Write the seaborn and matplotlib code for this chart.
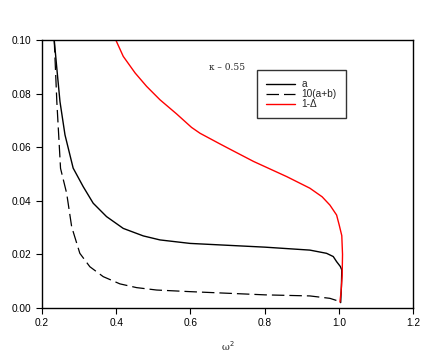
import numpy as np
import matplotlib
matplotlib.use("Agg")
import matplotlib.pyplot as plt
import pandas as pd
import seaborn as sns

# curve "a"
a_x = [0.233, 0.240, 0.2485, 0.262, 0.284, 0.311, 0.338, 0.374, 0.419, 0.473, 0.518, 0.599,
       0.700, 0.801, 0.922, 0.967, 0.985, 0.994, 1.004, 1.008, 1.007, 1.005]
a_y = [0.100, 0.0894, 0.0770, 0.0646, 0.0522, 0.0453, 0.0391, 0.0341, 0.0297, 0.0269, 0.0254, 0.0241,
       0.0234, 0.0227, 0.0216, 0.0204, 0.0192, 0.0173, 0.0155, 0.0142, 0.008, 0.002]

# curve "10(a+b)"
b_x = [0.233, 0.240, 0.250, 0.2665, 0.280, 0.302, 0.329, 0.365, 0.410, 0.455, 0.509,
       0.599, 0.700, 0.801, 0.922, 0.976, 1.003]
b_y = [0.100, 0.077, 0.0521, 0.0428, 0.0303, 0.0204, 0.0154, 0.0117, 0.0090, 0.0076, 0.0067,
       0.0061, 0.0055, 0.0049, 0.0045, 0.0036, 0.0024]

# curve "1-Δ"
r_x = [0.399, 0.419, 0.451, 0.482, 0.518, 0.563, 0.603, 0.626, 0.680, 0.702, 0.770, 0.860,
       0.922, 0.955, 0.976, 0.994, 1.001, 1.008, 1.010, 1.009, 1.006, 1.003]
r_y = [0.100, 0.0939, 0.0877, 0.0827, 0.0777, 0.0724, 0.0674, 0.0652, 0.0612, 0.0596, 0.0547, 0.049,
       0.0447, 0.0415, 0.0384, 0.0347, 0.031, 0.027, 0.020, 0.012, 0.006, 0.0022]

sns.set_style("ticks")
plt.rcParams['font.family'] = ['Liberation Sans', 'DejaVu Sans']

fig = plt.figure(figsize=(4.36, 3.58), dpi=100)
ax = fig.add_axes([0.0963, 0.1397, 0.851, 0.7485])

sns.lineplot(x=a_x, y=a_y, sort=False, estimator=None, color='black', lw=1.0, ax=ax, label='a')
sns.lineplot(x=b_x, y=b_y, sort=False, estimator=None, color='black', lw=0.9, ax=ax,
             label='10(a+b)')
ax.lines[-1].set_dashes((10, 4))
sns.lineplot(x=r_x, y=r_y, sort=False, estimator=None, color='red', lw=1.0, ax=ax, label='1-Δ')

ax.set_xlim(0.2, 1.2)
ax.set_ylim(0, 0.1)
ax.set_xticks([0.2, 0.4, 0.6, 0.8, 1.0, 1.2])
ax.set_yticks([0.0, 0.02, 0.04, 0.06, 0.08, 0.10])
ax.xaxis.set_major_formatter(matplotlib.ticker.FormatStrFormatter('%.1f'))
ax.yaxis.set_major_formatter(matplotlib.ticker.FormatStrFormatter('%.2f'))
ax.tick_params(labelsize=7.3, length=4, width=0.8, direction='out', colors='black')
for s in ax.spines.values():
    s.set_linewidth(1.0)
    s.set_color('black')

ax.set_xlabel('ω$^2$', family='DejaVu Serif', fontsize=7, labelpad=8)
ax.set_ylabel('')
ax.text((209 - 42) / 371, (308 - 67) / 268, 'κ – 0.55', family='DejaVu Serif', fontsize=6.5,
        ha='left', va='center', transform=ax.transAxes)

leg = ax.legend(loc='upper left', bbox_to_anchor=(0.5795, 0.888), borderaxespad=0,
                fontsize=7.3, frameon=True, fancybox=False, handlelength=2.8,
                handletextpad=0.7, borderpad=0.9, labelspacing=0.0)
leg.get_frame().set_edgecolor('black')
leg.get_frame().set_linewidth(1.0)

fig.savefig('out.png', dpi=100)
